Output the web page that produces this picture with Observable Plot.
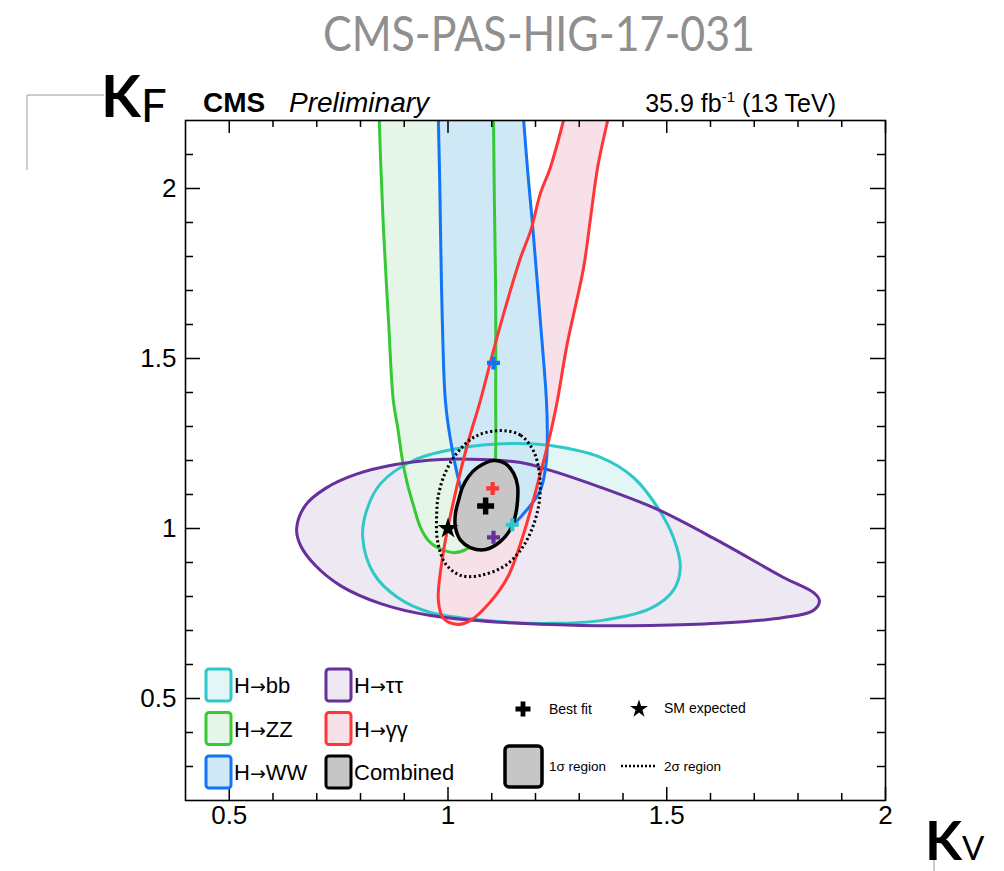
<!DOCTYPE html>
<html>
<head>
<meta charset="utf-8">
<script src="https://cdn.jsdelivr.net/npm/d3@7"></script>
<script src="https://cdn.jsdelivr.net/npm/@observablehq/plot@0.6"></script>
<style>
  html, body { margin: 0; padding: 0; background: #fff; }
  #chart { width: 1004px; height: 871px; }
</style>
</head>
<body>
<div id="chart"></div>
<script>
// ---------------- DATA (kappa_V, kappa_F) ----------------
const contourBB = [[0.805,0.974],[0.814,1.053],[0.846,1.132],[0.921,1.200],[1.035,1.238],[1.150,1.250],[1.234,1.244],[1.349,1.209],[1.424,1.150],[1.479,1.062],[1.515,0.974],[1.531,0.885],[1.515,0.818],[1.463,0.765],[1.349,0.729],[1.234,0.721],[1.120,0.726],[0.960,0.753],[0.885,0.797],[0.830,0.868]];
const contourTauTau = [[0.654,1.000],[0.674,1.068],[0.720,1.118],[0.789,1.159],[0.880,1.188],[0.983,1.203],[1.074,1.203],[1.166,1.194],[1.234,1.171],[1.349,1.121],[1.479,1.056],[1.616,0.965],[1.767,0.856],[1.835,0.812],[1.849,0.788],[1.835,0.759],[1.767,0.738],[1.616,0.721],[1.463,0.715],[1.303,0.715],[1.120,0.724],[0.960,0.744],[0.846,0.779],[0.754,0.832],[0.697,0.891],[0.663,0.950]];
const contourZZ = [[0.843,2.200],[0.846,2.082],[0.853,1.868],[0.864,1.612],[0.875,1.376],[0.885,1.297],[0.896,1.200],[0.907,1.132],[0.921,1.068],[0.937,1.003],[0.955,0.965],[0.976,0.944],[1.013,0.929],[1.040,0.938],[1.067,0.965],[1.090,1.003],[1.104,1.082],[1.109,1.229],[1.109,1.376],[1.109,1.671],[1.106,1.965],[1.104,2.200]];
const contourWW = [[0.978,2.200],[0.981,2.024],[0.983,1.868],[0.987,1.612],[0.994,1.376],[1.006,1.259],[1.029,1.121],[1.058,1.032],[1.104,0.994],[1.136,1.000],[1.173,1.044],[1.211,1.112],[1.225,1.200],[1.227,1.279],[1.225,1.376],[1.211,1.612],[1.193,1.897],[1.182,2.053],[1.173,2.200]];
const contourGG = [[1.264,2.200],[1.234,2.062],[1.211,1.985],[1.189,1.876],[1.166,1.797],[1.136,1.671],[1.104,1.524],[1.074,1.376],[1.045,1.250],[1.013,1.082],[0.990,0.935],[0.978,0.788],[0.990,0.735],[1.022,0.718],[1.051,0.729],[1.090,0.774],[1.136,0.856],[1.173,0.985],[1.205,1.132],[1.234,1.279],[1.250,1.376],[1.272,1.540],[1.310,1.768],[1.326,1.915],[1.342,2.062],[1.365,2.200]];
const combined1Sigma = [[1.104,1.200],[1.131,1.191],[1.150,1.162],[1.159,1.126],[1.159,1.082],[1.154,1.038],[1.145,1.003],[1.120,0.962],[1.086,0.938],[1.051,0.944],[1.029,0.965],[1.017,1.003],[1.017,1.044],[1.024,1.082],[1.033,1.121],[1.047,1.153],[1.067,1.179]];
const combined2Sigma = [[1.120,1.288],[1.166,1.274],[1.195,1.229],[1.209,1.162],[1.209,1.082],[1.195,1.009],[1.170,0.944],[1.131,0.891],[1.074,0.862],[1.029,0.862],[0.994,0.897],[0.976,0.965],[0.974,1.038],[0.978,1.097],[0.994,1.165],[1.022,1.224],[1.063,1.271]];

const bestFitChannel = ["bb", "WW", "ττ", "γγ", "Combined"];
const bestFitKV      = [1.147, 1.104, 1.104, 1.102, 1.086];
const bestFitKF      = [1.011, 1.487, 0.974, 1.118, 1.066];
const smExpected     = [[1.0, 1.0]];

const xMajorTicks = [0.5, 1, 1.5, 2];
const xMinorTicks = [0.6, 0.7, 0.8, 0.9, 1.1, 1.2, 1.3, 1.4, 1.6, 1.7, 1.8, 1.9];
const yMajorTicks = [0.5, 1, 1.5, 2];
const yMinorTicks = [0.3, 0.4, 0.6, 0.7, 0.8, 0.9, 1.1, 1.2, 1.3, 1.4, 1.6, 1.7, 1.8, 1.9, 2.1];

const legendChannels = ["bb", "ZZ", "WW", "ττ", "γγ", "Combined"];
const legendLabels   = ["H→bb", "H→ZZ", "H→WW", "H→ττ", "H→γγ", "Combined"];

// ---------------- STYLE ----------------
const palette = {
  "bb":       {stroke: "#2ec8c8", fill: "#e2f6f6"},
  "ZZ":       {stroke: "#35c935", fill: "#e5f6e9"},
  "WW":       {stroke: "#1274f7", fill: "#cfe8f5"},
  "ττ":       {stroke: "#66309d", fill: "#eee8f3"},
  "γγ":       {stroke: "#ff3636", fill: "#f8e0e8"},
  "Combined": {stroke: "#000000", fill: "#c6c6c6"}
};
const contours = {
  "bb": {pts: contourBB, closed: true},
  "ττ": {pts: contourTauTau, closed: true},
  "ZZ": {pts: contourZZ, closed: false},
  "WW": {pts: contourWW, closed: false},
  "γγ": {pts: contourGG, closed: false}
};
const FONT = "'Liberation Sans', Arial, Helvetica, sans-serif";
const W = 1004, H = 871, mL = 185, mR = 119, mT = 120, mB = 71;
const innerW = W - mL - mR, innerH = H - mT - mB;

// filled "+" marker: half-length = r, half-thickness = 0.32 r
const plusSymbol = {
  draw(ctx, size) {
    const r = Math.sqrt(size / Math.PI), t = r * 0.32;
    ctx.moveTo(-r, -t); ctx.lineTo(-t, -t); ctx.lineTo(-t, -r); ctx.lineTo(t, -r);
    ctx.lineTo(t, -t); ctx.lineTo(r, -t); ctx.lineTo(r, t); ctx.lineTo(t, t);
    ctx.lineTo(t, r); ctx.lineTo(-t, r); ctx.lineTo(-t, t); ctx.lineTo(-r, t); ctx.closePath();
  }
};

const fillOrder = ["bb", "ττ", "γγ", "ZZ", "WW"];
const lineOrder = ["bb", "ZZ", "ττ", "WW", "γγ"];
const px = d => d[0], py = d => d[1];

const marks = [];
for (const k of fillOrder) {
  const c = contours[k];
  marks.push(Plot.line(c.pts, {x: px, y: py, curve: c.closed ? "catmull-rom-closed" : "catmull-rom",
    fill: palette[k].fill, stroke: "none", clip: true}));
}
for (const k of lineOrder) {
  const c = contours[k];
  marks.push(Plot.line(c.pts, {x: px, y: py, curve: c.closed ? "catmull-rom-closed" : "catmull-rom",
    fill: "none", stroke: palette[k].stroke, strokeWidth: 3, clip: true}));
}
marks.push(Plot.line(combined2Sigma, {x: px, y: py, curve: "catmull-rom-closed", fill: "none",
  stroke: "black", strokeWidth: 3, strokeDasharray: "2.2,2.6", strokeLinecap: "butt"}));
marks.push(Plot.line(combined1Sigma, {x: px, y: py, curve: "catmull-rom-closed",
  fill: palette["Combined"].fill, stroke: "black", strokeWidth: 3.5}));

const bestFits = bestFitChannel.map((c, i) => ({c, kV: bestFitKV[i], kF: bestFitKF[i]}));
marks.push(Plot.dot(smExpected, {x: px, y: py, symbol: "star", r: 6.6, fill: "black", stroke: "none"}));
marks.push(Plot.dot(bestFits.filter(d => d.c !== "Combined"), {x: "kV", y: "kF", symbol: plusSymbol,
  fill: d => palette[d.c].stroke, stroke: "none", r: 6.5}));
marks.push(Plot.dot(bestFits.filter(d => d.c === "Combined"), {x: "kV", y: "kF", symbol: plusSymbol,
  fill: "black", stroke: "none", r: 8.5}));

// ticks (inside, on all four sides)
const tk = {stroke: "black", strokeWidth: 1.5};
marks.push(Plot.ruleX(xMajorTicks, {x: d => d, insetTop: innerH - 13, ...tk}));
marks.push(Plot.ruleX(xMinorTicks, {x: d => d, insetTop: innerH - 7, ...tk}));
marks.push(Plot.ruleX(xMajorTicks, {x: d => d, insetBottom: innerH - 13, ...tk}));
marks.push(Plot.ruleX(xMinorTicks, {x: d => d, insetBottom: innerH - 7, ...tk}));
marks.push(Plot.ruleY(yMajorTicks, {y: d => d, insetRight: innerW - 15, ...tk}));
marks.push(Plot.ruleY(yMinorTicks, {y: d => d, insetRight: innerW - 8, ...tk}));
marks.push(Plot.ruleY(yMajorTicks, {y: d => d, insetLeft: innerW - 15, ...tk}));
marks.push(Plot.ruleY(yMinorTicks, {y: d => d, insetLeft: innerW - 8, ...tk}));
marks.push(Plot.frame({stroke: "black", strokeWidth: 1.6}));

// tick labels
marks.push(Plot.text(xMajorTicks, {x: d => d, text: d => String(d), frameAnchor: "bottom", dy: 23,
  fontSize: 26, fontFamily: FONT, fill: "black"}));
marks.push(Plot.text(yMajorTicks, {y: d => d, text: d => String(d), frameAnchor: "left", textAnchor: "end",
  dx: -9, fontSize: 26, fontFamily: FONT, fill: "black"}));

const svg = Plot.plot({
  width: W, height: H,
  marginLeft: mL, marginRight: mR, marginTop: mT, marginBottom: mB,
  x: {domain: [0.4, 2], axis: null},
  y: {domain: [0.2, 2.2], axis: null},
  style: {background: "white", fontFamily: FONT, overflow: "visible"},
  marks
});
document.getElementById("chart").appendChild(svg);

// ---------------- ANNOTATIONS ----------------
const s = d3.select(svg);
const g = s.append("g").attr("font-family", FONT).attr("text-anchor", "start").attr("fill", "black");

// document id header
s.append("text").attr("x", 539).attr("y", 51).attr("text-anchor", "middle")
  .attr("font-family", "Lato, 'Open Sans', sans-serif").attr("font-size", 49)
  .attr("textLength", 432).attr("lengthAdjust", "spacingAndGlyphs")
  .attr("fill", "#8f8f8f").text("CMS-PAS-HIG-17-031");

// CMS Preliminary + lumi
g.append("text").attr("x", 203).attr("y", 112).attr("font-size", 28).attr("font-weight", "bold").text("CMS");
g.append("text").attr("x", 289).attr("y", 112).attr("font-size", 28).attr("font-style", "italic").text("Preliminary");
const lumi = g.append("text").attr("x", 836).attr("y", 112).attr("font-size", 25).attr("text-anchor", "end");
lumi.append("tspan").text("35.9 fb");
lumi.append("tspan").attr("font-size", 15).attr("dy", -10).text("-1");
lumi.append("tspan").attr("dy", 10).text(" (13 TeV)");

// axis titles (slide overlay style)
s.append("path").attr("d", "M27,170V95H104").attr("fill", "none").attr("stroke", "#9a9a9a").attr("stroke-width", 1);
const kf = s.append("text").attr("x", 101).attr("y", 117).attr("text-anchor", "start")
  .attr("font-family", "Lato, sans-serif").attr("fill", "black");
kf.append("tspan").attr("font-size", 58).attr("font-weight", "bold").text("K");
kf.append("tspan").attr("font-size", 46).attr("dy", 5).text("F");
s.append("path").attr("d", "M934,860V871").attr("stroke", "#9a9a9a").attr("stroke-width", 1);
const kv = s.append("text").attr("x", 925).attr("y", 860).attr("text-anchor", "start")
  .attr("font-family", "Lato, sans-serif").attr("fill", "black");
kv.append("tspan").attr("font-size", 54).attr("font-weight", "bold").text("K");
kv.append("tspan").attr("font-size", 33).text("V");

// legend: channels
legendChannels.forEach((c, i) => {
  const col = Math.floor(i / 3), row = i % 3;
  const bx = 206 + col * 120, by = 669 + row * 43.5;
  g.append("rect").attr("x", bx).attr("y", by).attr("width", 25).attr("height", 32).attr("rx", 3)
    .attr("fill", palette[c].fill).attr("stroke", palette[c].stroke).attr("stroke-width", 3);
  const t = g.append("text").attr("x", bx + 28).attr("y", by + 24).attr("font-size", 22);
  const parts = legendLabels[i].split("→");
  t.append("tspan").text(parts[0]);
  if (parts.length > 1) {
    t.append("tspan").attr("font-family", "'DejaVu Sans', sans-serif").attr("font-size", 19).text("→");
    t.append("tspan").text(parts[1]);
  }
});

// legend: markers / regions
g.append("path").attr("transform", "translate(523,709)")
  .attr("d", d3.symbol(plusSymbol, Math.PI * 7.5 * 7.5)()).attr("fill", "black");
g.append("text").attr("x", 549).attr("y", 714).attr("font-size", 14).text("Best fit");
g.append("path").attr("transform", "translate(639,709)").attr("d", d3.symbol(d3.symbolStar, 100)()).attr("fill", "black");
g.append("text").attr("x", 664).attr("y", 713).attr("font-size", 14).text("SM expected");
g.append("rect").attr("x", 505).attr("y", 746).attr("width", 37).attr("height", 41).attr("rx", 4)
  .attr("fill", palette["Combined"].fill).attr("stroke", "black").attr("stroke-width", 3.5);
g.append("text").attr("x", 549).attr("y", 771).attr("font-size", 13.5).text("1σ region");
g.append("line").attr("x1", 621).attr("x2", 655).attr("y1", 766).attr("y2", 766)
  .attr("stroke", "black").attr("stroke-width", 2.5).attr("stroke-dasharray", "2,2");
g.append("text").attr("x", 664).attr("y", 771).attr("font-size", 13.5).text("2σ region");
</script>
</body>
</html>
